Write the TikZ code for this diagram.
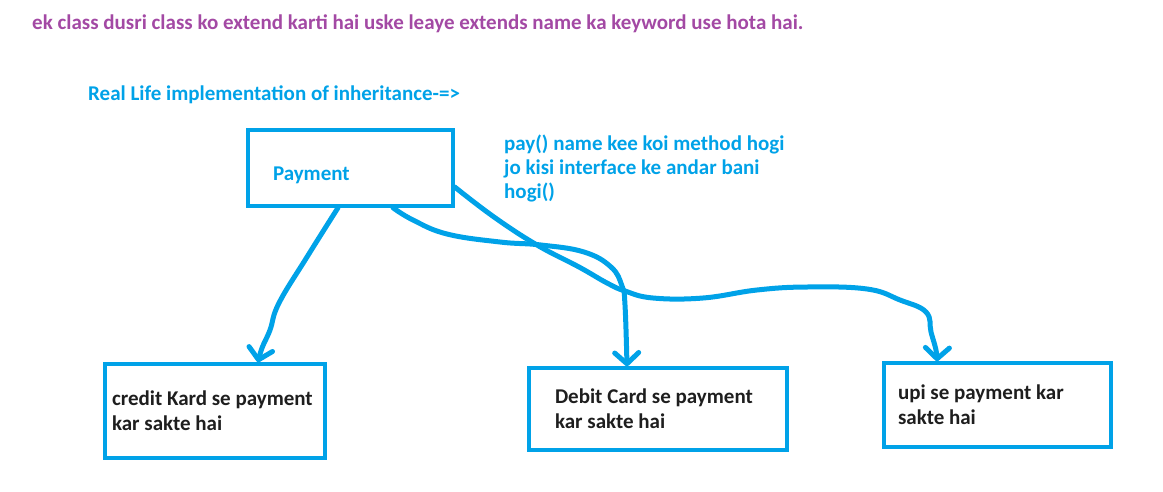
\documentclass[tikz,border=0pt]{standalone}
\usepackage{fontspec}
\setmainfont{Carlito}
\usetikzlibrary{arrows.meta, positioning}
\definecolor{paintblue}{RGB}{0,162,232}
\definecolor{notepurple}{RGB}{163,73,164}
\definecolor{boxtext}{RGB}{30,30,30}
\tikzstyle{classbox} = [rectangle, draw=paintblue, line width=3.5pt, inner xsep=2pt, inner ysep=2pt, align=flush left, font=\bfseries\fontsize{21}{25}\selectfont]
\tikzstyle{note} = [inner sep=0pt, anchor=base west, align=left, font=\bfseries\fontsize{21}{24}\selectfont]
\tikzstyle{wire} = [draw=paintblue, line width=5pt, line cap=round, line join=round, -{Straight Barb[round, length=11pt, width=24pt]}]

\begin{document}
\begin{tikzpicture}[x=1pt, y=-1pt]
    \useasboundingbox (0,0) rectangle (1163,491);
    % Place nodes
    \node [note, text=notepurple] (title) at (32,29) {ek class dusri class ko extend karti hai uske leaye extends name ka keyword use hota hai.};
    \node [note, text=paintblue] (heading) at (88,100) {Real Life implementation of inheritance-=>};
    \node [classbox, text=paintblue, minimum width=205pt, minimum height=76pt, text width=155pt, text height=24pt, text depth=0pt] (payment) at (350.5,168) {Payment};
    \node [note, text=paintblue] (method) at (504,198) {pay() name kee koi method hogi\\jo kisi interface ke andar bani\\hogi()};

    \node [classbox, text=boxtext, minimum width=220pt, minimum height=94pt, text width=206pt] (credit) at (215,411) {credit Kard se payment\\kar sakte hai};
    \node [classbox, text=boxtext, minimum width=258pt, minimum height=82pt, text width=206pt] (debit) at (658,409) {Debit Card se payment\\kar sakte hai};
    \node [classbox, text=boxtext, minimum width=227pt, minimum height=84pt, text width=199pt] (upi) at (997.5,405) {upi se payment kar\\sakte hai};

    % Draw edges
    \draw [wire] plot [smooth, tension=0.7] coordinates {([xshift=-12.5pt]payment.south) (307,257) (279,303) (270,330) (262,348) ([xshift=43pt]credit.north)};
    \draw [wire] plot [smooth, tension=0.7] coordinates {([xshift=42.5pt]payment.south) (413,220) (447,234) (500,242) (541,245) (584,252) (611,267) (622,286) (625,305) ([xshift=-31pt]debit.north)};
    \draw [wire] plot [smooth, tension=0.7] coordinates {([yshift=-19pt]payment.east) (494,217) (537,245) (579,267) (607,283) (625,291) (653,298) (703,298) (757,290) (807,287) (867,289) (900,300) (926,312) (931,332) (936,350) ([xshift=-60.5pt]upi.north)};
\end{tikzpicture}
\end{document}
